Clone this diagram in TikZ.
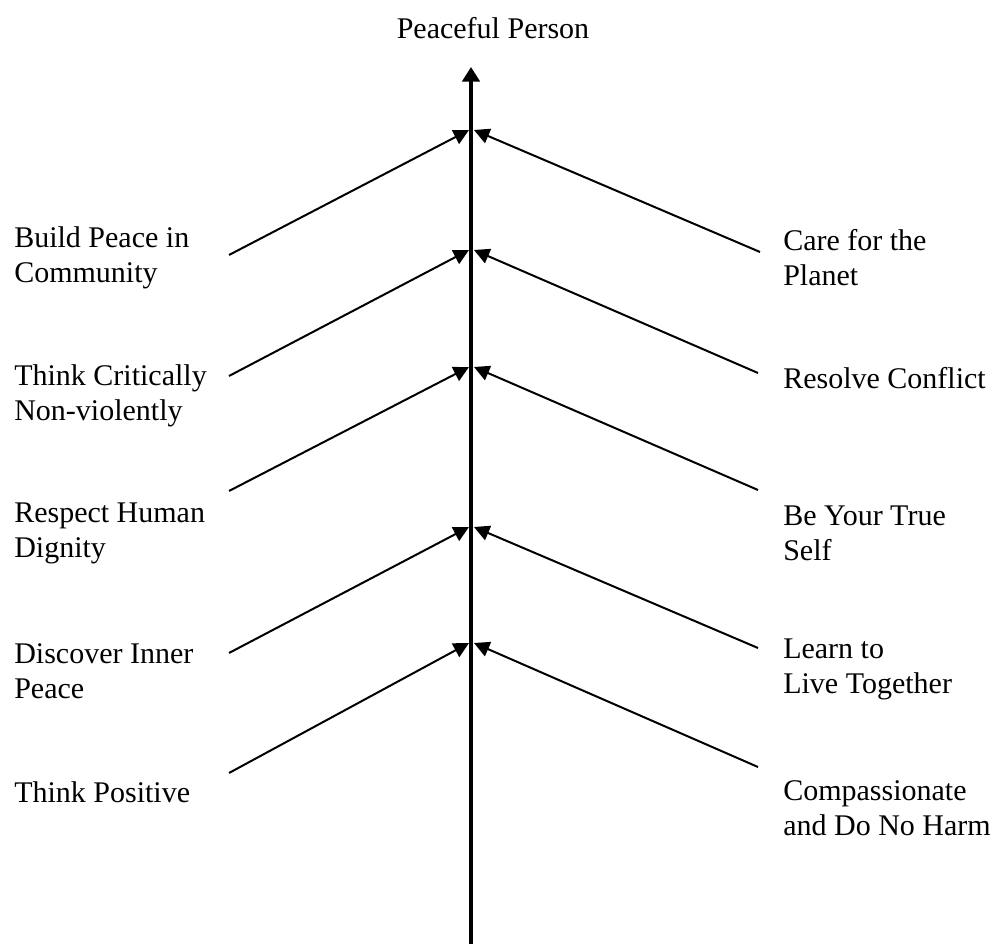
\documentclass[tikz,border=0pt]{standalone}
\usepackage{fontspec}
\setmainfont{Liberation Serif}
\usetikzlibrary{arrows.meta}

\begin{document}
\begin{tikzpicture}[x=0.75pt,y=-0.75pt,
  lbl/.style={align=left,inner sep=0pt,font=\fontsize{22.5}{26.25}\selectfont},
  branch/.style={line width=1.5pt,-{Triangle[length=11.5pt,width=11.5pt]}}]
\useasboundingbox (0,0) rectangle (1003,944);

% main stem
\node[lbl] (title) at (493,28) {Peaceful Person};
\coordinate (base) at (471,944);
\coordinate (apex) at (471,67);
\draw[line width=3pt,-{Triangle[length=11pt,width=13pt]}] (base) -- (apex);

% left side
\node[lbl,anchor=west] (community) at (14,258) {Build Peace in\\Community};
\node[lbl,anchor=west] (critical) at (14,396) {Think Critically\\Non-violently};
\node[lbl,anchor=west] (dignity) at (14,533) {Respect Human\\Dignity};
\node[lbl,anchor=west] (inner) at (14,671) {Discover Inner\\Peace};
\node[lbl,anchor=west] (positive) at (14,792) {Think Positive};

% right side
\node[lbl,anchor=west] (planet) at (783,258) {Care for the\\Planet};
\node[lbl,anchor=west] (conflict) at (783,378) {Resolve Conflict};
\node[lbl,anchor=west] (self) at (783,533) {Be Your True\\Self};
\node[lbl,anchor=west] (together) at (783,669) {Learn to\\Live Together};
\node[lbl,anchor=west] (harm) at (783,808) {Compassionate\\and Do No Harm};

% branch ends
\coordinate (l1) at (229,255); \coordinate (r1) at (760,252);
\coordinate (l2) at (229,376); \coordinate (r2) at (758,373);
\coordinate (l3) at (229,491); \coordinate (r3) at (758,490);
\coordinate (l4) at (229,653); \coordinate (r4) at (758,648);
\coordinate (l5) at (229,773); \coordinate (r5) at (758,767);

% where they meet the stem
\coordinate (lm1) at (469,130); \coordinate (rm1) at (474,130);
\coordinate (lm2) at (469,250); \coordinate (rm2) at (474,250);
\coordinate (lm3) at (469,367); \coordinate (rm3) at (474,367);
\coordinate (lm4) at (469,527); \coordinate (rm4) at (474,527);
\coordinate (lm5) at (469,643); \coordinate (rm5) at (474,643);

\foreach \i in {1,...,5}{
  \draw[branch] (l\i) -- (lm\i);
  \draw[branch] (r\i) -- (rm\i);
}
\end{tikzpicture}
\end{document}
